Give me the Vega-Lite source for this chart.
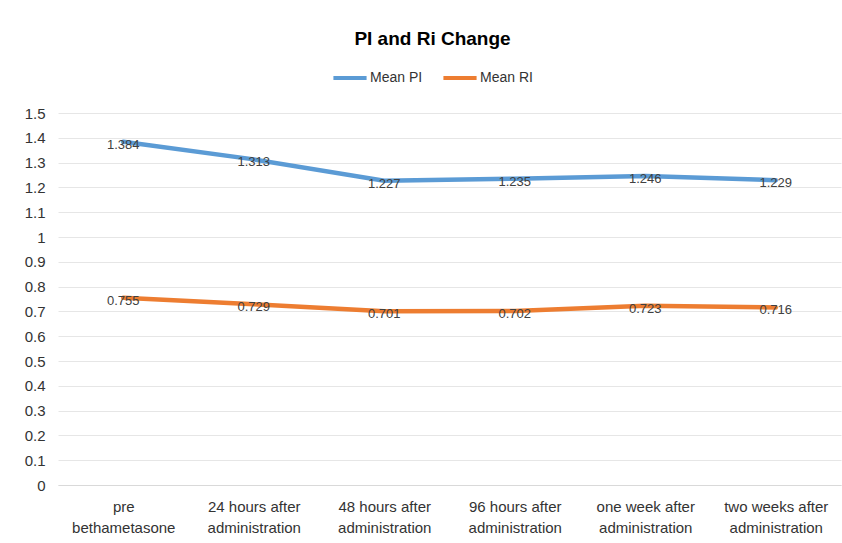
{
  "$schema": "https://vega.github.io/schema/vega-lite/v6.json",
  "autosize": {"type": "none"},
  "width": 783,
  "height": 372,
  "padding": {"left": 58, "top": 113, "right": 1, "bottom": 58},
  "background": "white",
  "title": {
    "text": "PI and Ri Change",
    "font": "Liberation Sans Narrow, Liberation Sans, sans-serif",
    "fontSize": 19,
    "fontWeight": "bold",
    "color": "#000000",
    "anchor": "middle",
    "frame": "group",
    "dx": -17,
    "offset": 10
  },
  "data": {
    "values": [
      {"time": "pre\nbethametasone", "series": "Mean PI", "value": 1.384},
      {"time": "24 hours after\nadministration", "series": "Mean PI", "value": 1.313},
      {"time": "48 hours after\nadministration", "series": "Mean PI", "value": 1.227},
      {"time": "96  hours after\nadministration", "series": "Mean PI", "value": 1.235},
      {"time": "one week after\nadministration", "series": "Mean PI", "value": 1.246},
      {"time": "two weeks after\nadministration", "series": "Mean PI", "value": 1.229},
      {"time": "pre\nbethametasone", "series": "Mean RI", "value": 0.755},
      {"time": "24 hours after\nadministration", "series": "Mean RI", "value": 0.729},
      {"time": "48 hours after\nadministration", "series": "Mean RI", "value": 0.701},
      {"time": "96  hours after\nadministration", "series": "Mean RI", "value": 0.702},
      {"time": "one week after\nadministration", "series": "Mean RI", "value": 0.723},
      {"time": "two weeks after\nadministration", "series": "Mean RI", "value": 0.716}
    ]
  },
  "encoding": {
    "x": {
      "field": "time",
      "type": "nominal",
      "sort": null,
      "scale": {"type": "point", "padding": 0.5},
      "axis": {
        "title": null,
        "labelAngle": 0,
        "labelExpr": "split(datum.value, '\\n')",
        "labelFont": "Liberation Sans Narrow, Liberation Sans, sans-serif",
        "labelFontSize": 15,
        "labelColor": "#333333",
        "labelLineHeight": 21,
        "labelPadding": 14,
        "ticks": false,
        "domainColor": "#d9d9d9",
        "domainWidth": 1,
        "grid": false
      }
    },
    "y": {
      "field": "value",
      "type": "quantitative",
      "scale": {"domain": [0, 1.5], "nice": false},
      "axis": {
        "title": null,
        "values": [0, 0.1, 0.2, 0.3, 0.4, 0.5, 0.6, 0.7, 0.8, 0.9, 1, 1.1, 1.2, 1.3, 1.4, 1.5],
        "format": "~g",
        "labelFont": "Liberation Sans Narrow, Liberation Sans, sans-serif",
        "labelFontSize": 15,
        "labelColor": "#333333",
        "labelPadding": 13,
        "ticks": false,
        "domain": false,
        "grid": true,
        "gridColor": "#e6e6e6",
        "gridWidth": 1
      }
    },
    "color": {
      "field": "series",
      "type": "nominal",
      "scale": {"domain": ["Mean PI", "Mean RI"], "range": ["#5B9BD5", "#ED7D31"]},
      "legend": {
        "title": null,
        "orient": "none",
        "direction": "horizontal",
        "legendX": 273,
        "legendY": -54,
        "symbolType": "stroke",
        "symbolSize": 1100,
        "symbolStrokeWidth": 4,
        "labelFont": "Liberation Sans Narrow, Liberation Sans, sans-serif",
        "labelFontSize": 14,
        "labelColor": "#333333",
        "labelOffset": 1,
        "columnPadding": 12
      }
    }
  },
  "layer": [
    {
      "mark": {"type": "line", "strokeWidth": 4.5, "strokeCap": "round"}
    },
    {
      "mark": {
        "type": "text",
        "dy": 3,
        "font": "Liberation Sans Narrow, Liberation Sans, sans-serif",
        "fontSize": 13,
        "color": "#404040"
      },
      "encoding": {
        "text": {"field": "value", "type": "quantitative", "format": ".3f"},
        "color": {"value": "#404040"}
      }
    }
  ],
  "config": {"view": {"stroke": null}}
}
